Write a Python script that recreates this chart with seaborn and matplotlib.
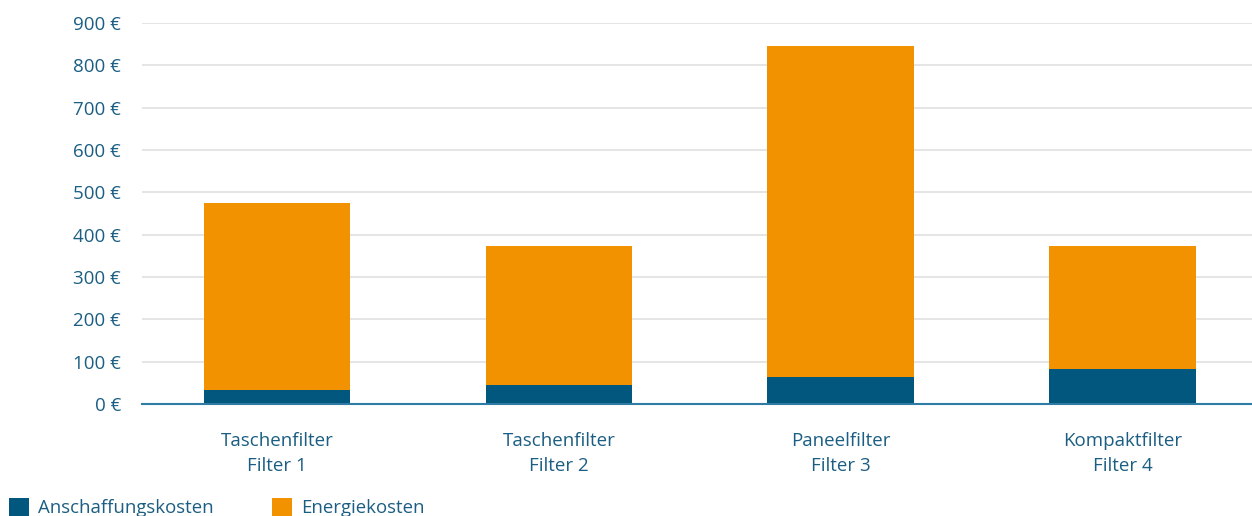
import matplotlib
matplotlib.use("Agg")
import matplotlib.pyplot as plt
import seaborn as sns
import pandas as pd
from matplotlib.patches import Patch

categories = ["Taschenfilter\nFilter 1", "Taschenfilter\nFilter 2", "Paneelfilter\nFilter 3", "Kompaktfilter\nFilter 4"]
anschaffung = [33, 45, 64, 83]
energie = [442, 328, 782, 290]
yticks = [0, 100, 200, 300, 400, 500, 600, 700, 800, 900]
series_names = ["Anschaffungskosten", "Energiekosten"]

dark = "#02577F"
orange = "#F39200"
text_col = "#1B5E83"

sns.set_theme(style="white")
plt.rcParams['font.family'] = ['Open Sans', 'DejaVu Sans']

df = pd.DataFrame({"cat": categories, "ans": anschaffung,
                   "total": [a + e for a, e in zip(anschaffung, energie)]})

fig = plt.figure(figsize=(12.52, 5.16), dpi=100)
ax = fig.add_axes([142/1252, 1-404/516, 1-142/1252, (404-23)/516])

sns.barplot(data=df, x="cat", y="total", color=orange, width=0.52, saturation=1, ax=ax,
            zorder=3, linewidth=0, edgecolor="none")
sns.barplot(data=df, x="cat", y="ans", color=dark, width=0.52, saturation=1, ax=ax,
            zorder=3, linewidth=0, edgecolor="none")

ax.set_ylim(0, 900)
ax.set_xlim(-0.48, 3.46)
ax.set_yticks(yticks)
ax.set_yticklabels([f"{v} €" for v in yticks])
ax.set_xlabel("")
ax.set_ylabel("")
ax.yaxis.grid(True, color="#E0E0E0", linewidth=1.2, zorder=0)
ax.set_axisbelow(True)
for s in ["top", "right", "left"]:
    ax.spines[s].set_visible(False)
ax.spines["bottom"].set_color("#2E7BA3")
ax.spines["bottom"].set_linewidth(1.5)
ax.spines["bottom"].set_zorder(4)
ax.tick_params(axis="y", length=0, pad=15, labelsize=13.5, labelcolor=text_col)
ax.tick_params(axis="x", length=0, pad=20, labelsize=13.5, labelcolor=text_col)
for lbl in ax.get_xticklabels():
    lbl.set_linespacing(1.5)

handles = [Patch(facecolor=dark, edgecolor="none"), Patch(facecolor=orange, edgecolor="none")]
leg = fig.legend(handles, series_names, loc="lower left", bbox_to_anchor=(-0.003, -0.028),
                 ncol=2, frameon=False, fontsize=13.4, handlelength=1.05, handleheight=1.05,
                 handletextpad=0.5, columnspacing=3.15, borderaxespad=0.3)
for t in leg.get_texts():
    t.set_color(text_col)

fig.savefig("out.png", dpi=100)
